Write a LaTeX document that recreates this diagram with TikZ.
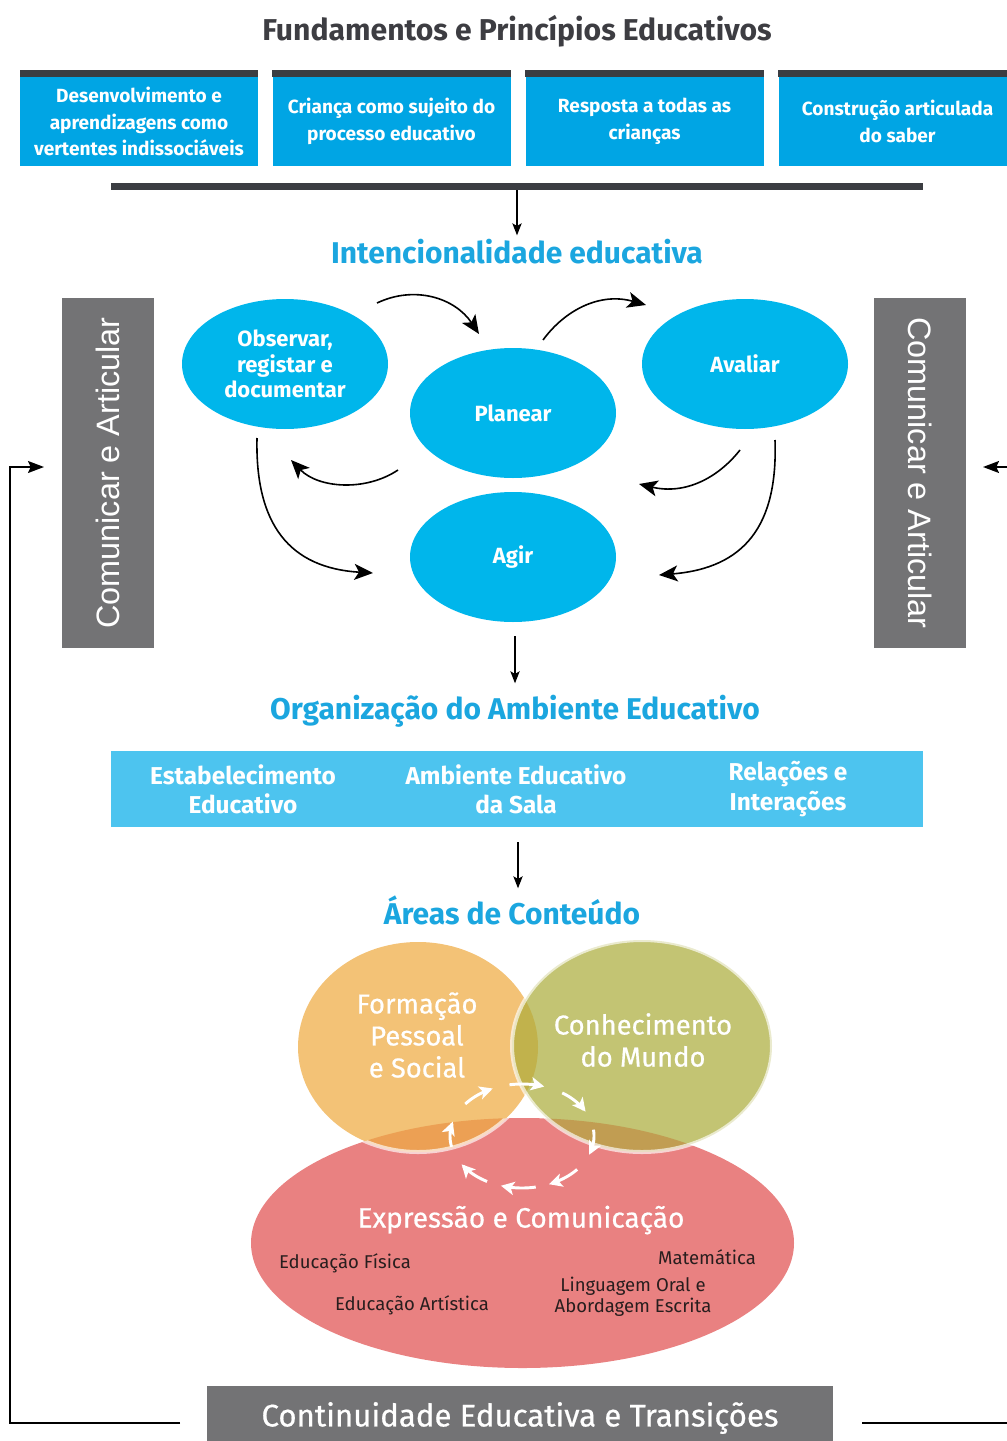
\documentclass[tikz,border=0pt]{standalone}
\usepackage{fontspec}
\setmainfont{Fira Sans}
\newfontfamily\helv{Liberation Sans}
\newfontfamily\medium[FakeBold=0.6]{Fira Sans}
\usetikzlibrary{arrows.meta,shapes.geometric,calc}
\definecolor{topblue}{RGB}{0,165,228}
\definecolor{ellblue}{RGB}{0,182,235}
\definecolor{headblue}{RGB}{27,166,223}
\definecolor{bandblue}{RGB}{77,196,239}
\definecolor{darkstrip}{RGB}{59,61,66}
\definecolor{titlegray}{RGB}{61,61,66}
\definecolor{sidegray}{RGB}{115,115,117}
\definecolor{vorange}{RGB}{243,194,118}
\definecolor{vgreen}{RGB}{195,196,115}
\definecolor{vpink}{RGB}{233,129,129}
\definecolor{ovOG}{RGB}{193,178,76}
\definecolor{ovOP}{RGB}{236,160,84}
\definecolor{ovGP}{RGB}{193,157,82}
\definecolor{ovOGP}{RGB}{190,150,70}
\definecolor{smalltext}{RGB}{40,30,30}
\begin{document}
\begin{tikzpicture}[x=0.75pt,y=-0.75pt,
  topbox/.style={fill=topblue,text=white,font=\bfseries\fontsize{14.3}{20}\selectfont,align=center,minimum width={238*0.75pt},minimum height={89*0.75pt},inner sep=0pt},
  stripbar/.style={fill=darkstrip,minimum height={7*0.75pt},inner sep=0pt},
  cyc/.style={ellipse,fill=ellblue,text=white,font=\bfseries\fontsize{16.5}{19}\selectfont,align=center,minimum width={206*0.75pt},minimum height={130*0.75pt},inner sep=0pt},
  heading/.style={text=headblue,font=\bfseries\fontsize{22.5}{26}\selectfont,inner sep=0pt},
  bandtxt/.style={text=white,font=\bfseries\fontsize{18.3}{22}\selectfont,align=center,inner sep=0pt},
  sidebar/.style={fill=sidegray,text=white,font=\helv\fontsize{24.3}{26}\selectfont,minimum width={350*0.75pt},minimum height={92*0.75pt},inner sep=0pt},
  venntxt/.style={text=white,font=\medium\fontsize{20.5}{24}\selectfont,align=center,inner sep=0pt},
  smalltxt/.style={text=smalltext,font=\fontsize{13.9}{16}\selectfont,align=center,inner sep=0pt},
  conn/.style={line width=1.2pt,-{Stealth[length=14pt,width=12pt,inset=3.5pt]}},
  downarr/.style={line width=0.9pt,-{Stealth[length=9pt,width=7pt,inset=2pt]}},
  loopline/.style={line width=1.1pt},
  warr/.style={white,line width=2.2pt,-{Stealth[length=10pt,width=10pt,inset=2.5pt]}}
]
\useasboundingbox (0,0) rectangle (1006,1441);

% Title
\node[text=titlegray,font=\fontsize{22.6}{26}\selectfont\bfseries,inner sep=0pt] (title) at (517,31) {Fundamentos e Princípios Educativos};

% Top boxes
\fill[darkstrip] (20,70) rectangle (258,77);
\fill[darkstrip] (272,70) rectangle (511,77);
\fill[darkstrip] (525,70) rectangle (764,77);
\fill[darkstrip] (778,70) rectangle (1017,77);
\node[topbox] (f1) at (139,121.5) {Desenvolvimento e\\aprendizagens como\\vertentes indissociáveis};
\node[topbox] (f2) at (391.5,121.5) {Criança como sujeito do\\processo educativo};
\node[topbox] (f3) at (644.5,121.5) {Resposta a todas as\\crianças};
\node[topbox] (f4) at (897.5,121.5) {Construção articulada\\do saber};

% Dark bar
\node[stripbar,minimum width={812*0.75pt}] (bar) at (517,186.5) {};

% Intencionalidade
\node[heading] (h1) at (517,252) {Intencionalidade educativa};
\draw[downarr] (bar.south) -- ($(h1.north)+(0,-4)$);

% Cycle ellipses
\node[cyc] (obs) at (285,364) {Observar,\\registar e\\documentar};
\node[cyc] (plan) at (513,413) {Planear};
\node[cyc] (aval) at (745,364) {Avaliar};
\node[cyc] (agir) at (513,557) {Agir};

\coordinate (a1s) at (377,303); \coordinate (a1e) at (479,334);
\coordinate (a2s) at (543,340); \coordinate (a2e) at (646,305);
\coordinate (a3s) at (398,470); \coordinate (a3e) at (291,460);
\coordinate (a4s) at (740,450); \coordinate (a4e) at (639,484);
\coordinate (a5s) at (257,438); \coordinate (a5e) at (373,573);
\coordinate (a6s) at (775,440); \coordinate (a6e) at (659,575);
\draw[conn] (a1s) .. controls (415,285) and (455,298) .. (a1e);
\draw[conn] (a2s) .. controls (565,310) and (600,292) .. (a2e);
\draw[conn] (a3s) .. controls (365,492) and (318,488) .. (a3e);
\draw[conn] (a4s) .. controls (718,478) and (685,495) .. (a4e);
\draw[conn] (a5s) .. controls (255,525) and (290,568) .. (a5e);
\draw[conn] (a6s) .. controls (778,525) and (745,568) .. (a6e);

% Side bars
\node[sidebar,rotate=90] (cl) at (108,473) {Comunicar e Articular};
\node[sidebar,rotate=-90] (cr) at (920,473) {Comunicar e Articular};

% Organizacao
\node[heading] (h2) at (515,711) {Organização do Ambiente Educativo};
\draw[downarr] ($(agir.south)+(2,14)$) -- ($(agir.south)+(2,61)$);

% Band
\node[fill=bandblue,minimum width={812*0.75pt},minimum height={76*0.75pt},inner sep=0pt] (band) at (517,789) {};
\node[bandtxt] (b1) at (243,789) {Estabelecimento\\Educativo};
\node[bandtxt] (b2) at (516,789) {Ambiente Educativo\\da Sala};
\node[bandtxt] (b3) at (788,789) {Relações e\\Interações};

% Areas
\node[heading] (h3) at (512,910) {Áreas de Conteúdo};
\draw[downarr] ($(band.south)+(1,15)$) -- ($(band.south)+(1,61)$);

% Venn
\fill[vpink] (522.5,1243) ellipse [x radius=271.5, y radius=125];
\fill[vorange] (418,1047) ellipse [x radius=120, y radius=105];
\fill[vgreen] (642,1046) ellipse [x radius=130, y radius=106];
\begin{scope}
  \clip (522.5,1243) ellipse [x radius=271.5, y radius=125];
  \fill[ovOP] (418,1047) ellipse [x radius=120, y radius=105];
  \fill[ovGP] (642,1046) ellipse [x radius=130, y radius=106];
\end{scope}
\begin{scope}
  \clip (418,1047) ellipse [x radius=120, y radius=105];
  \fill[ovOG] (642,1046) ellipse [x radius=130, y radius=106];
  \clip (522.5,1243) ellipse [x radius=271.5, y radius=125];
  \fill[ovOGP] (642,1046) ellipse [x radius=130, y radius=106];
\end{scope}
\begin{scope}
  \clip (522.5,1243) ellipse [x radius=271.5, y radius=125];
  \draw[white,opacity=0.65,line width=3pt] (418,1047) ellipse [x radius=120, y radius=105];
\end{scope}
\draw[white,opacity=0.65,line width=3pt] (642,1046) ellipse [x radius=130, y radius=106];

\node[venntxt] (fps) at (417,1035) {Formação\\Pessoal\\e Social};
\node[venntxt] (cdm) at (643,1040) {Conhecimento\\do Mundo};
\node[venntxt,font=\medium\fontsize{21}{24}\selectfont] (eec) at (521,1220) {Expressão e Comunicação};
\node[smalltxt] (ef) at (345,1263) {Educação Física};
\node[smalltxt] (ea) at (412,1305) {Educação Artística};
\node[smalltxt] (mat) at (707,1257) {Matemática};
\node[smalltxt] (lo) at (633,1297) {Linguagem Oral e\\Abordagem Escrita};

% white cycle arrows
\foreach \a in {232,274,318,7,54,93,133,182}{
  \draw[warr,domain=\a-14:\a+14,samples=12,variable=\t] plot ({522+72*cos(\t)},{1136+52*sin(\t)});
}

% Bottom bar
\node[fill=sidegray,text=white,font=\medium\fontsize{23.4}{26}\selectfont,minimum width={626*0.75pt},minimum height={64*0.75pt},inner sep=0pt] (cont) at (520,1418) {Continuidade Educativa e Transições};

% Loop lines
\coordinate (ll) at (180,1423);
\coordinate (la) at (44,467);
\draw[loopline,-{Stealth[length=12pt,width=9pt,inset=2pt]}] (ll) -- (10,1423) |- (la);
\coordinate (rl) at (862,1423);
\coordinate (ra) at (983,467);
\draw[loopline] (rl) -- (1010,1423);
\draw[loopline,-{Stealth[length=12pt,width=9pt,inset=2pt]}] (1010,467) -- (ra);
\end{tikzpicture}
\end{document}
